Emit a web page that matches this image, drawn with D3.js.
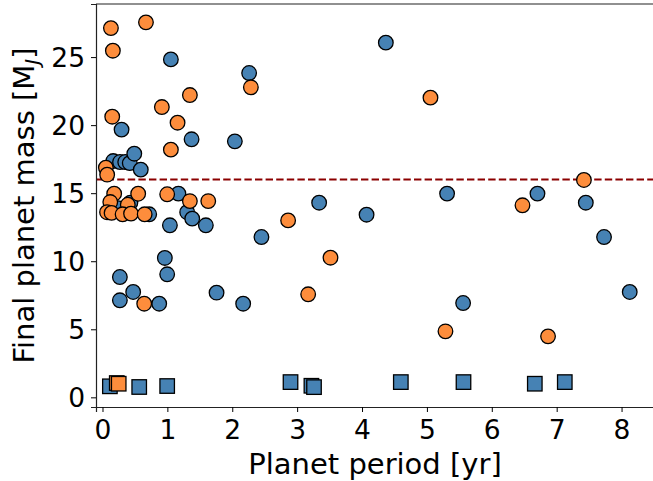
<!DOCTYPE html>
<html>
<head>
<meta charset="utf-8">
<script src="https://cdn.jsdelivr.net/npm/d3@7"></script>
<style>
	body { margin: 0; background: #fff; }
	text { font-family: "DejaVu Sans", sans-serif; }
</style>
</head>
<body>
<script>
// planets that stay as circles, [period yr, mass MJ]
var bluePlanets = [
	[4.367, 26.06], [1.054, 24.83], [2.26, 23.83], [0.294, 19.67], [1.373, 18.96], [2.04, 18.81],
	[0.165, 17.36], [0.27, 17.29], [0.35, 17.29], [0.42, 17.21], [0.49, 17.9], [0.59, 16.73],
	[0.43, 14.3], [0.24, 13.9], [0.72, 13.45],
	[1.17, 14.97], [1.305, 13.6], [1.383, 13.13], [1.593, 12.64], [1.039, 12.64], [2.45, 11.78],
	[0.961, 10.24], [0.997, 9.04], [0.268, 8.84], [0.473, 7.74], [0.268, 7.13], [0.874, 6.88],
	[1.758, 7.69], [2.168, 6.88],
	[3.339, 14.3], [4.07, 13.42], [5.311, 14.97], [6.704, 14.97], [7.449, 14.3], [7.73, 11.78],
	[8.126, 7.74], [5.558, 6.93]
];
var orangePlanets = [
	[0.13, 27.13], [0.67, 27.55], [0.16, 25.47], [0.15, 20.62], [0.915, 21.33], [1.347, 22.21],
	[1.157, 20.18], [1.054, 18.2], [2.287, 22.78], [5.055, 22.02], [7.42, 15.97],
	[0.052, 16.88], [0.072, 16.36],
	[0.18, 14.96], [0.55, 14.96], [0.12, 14.35], [0.39, 14.15], [0.07, 13.6], [0.14, 13.55],
	[0.31, 13.45], [0.44, 13.5], [0.65, 13.45],
	[0.997, 14.92], [1.347, 14.42], [1.63, 14.42],
	[2.861, 13.0], [3.514, 10.26], [3.17, 7.57], [6.473, 14.11], [5.286, 4.85], [6.867, 4.48],
	[0.643, 6.88]
];
// planets drawn as squares
var blueSquares = [
	[0.114, 0.81], [0.566, 0.76], [0.997, 0.83], [2.898, 1.12], [3.22, 0.85], [3.26, 0.75],
	[4.598, 1.12], [5.564, 1.12], [6.663, 1.0], [7.125, 1.12]
];
var orangeSquares = [[0.22, 1.05], [0.25, 1.0]];

var xTicks = [0, 1, 2, 3, 4, 5, 6, 7, 8];
var yTicks = [0, 5, 10, 15, 20, 25];
var massLimit = 16;

var width = 653,
	height = 481;

var svg = d3.select('body').append('svg')
	.attr('width', width)
	.attr('height', height);

var x = d3.scaleLinear().domain([-0.1, 8.5]).range([96, 654]);
var y = d3.scaleLinear().domain([-0.71, 28.9]).range([407, 4]);

var blue = '#4682b4',
	orange = '#fd8d3c';

// limit line
svg.append('line')
	.attr('x1', x(-0.1)).attr('x2', x(8.5))
	.attr('y1', y(massLimit)).attr('y2', y(massLimit))
	.attr('stroke', '#8b0000')
	.attr('stroke-width', 2)
	.attr('stroke-dasharray', '7.4,3.2');

function circles(data, color) {
	svg.append('g').selectAll('circle')
		.data(data)
		.enter().append('circle')
		.attr('cx', function (d) { return x(d[0]); })
		.attr('cy', function (d) { return y(d[1]); })
		.attr('r', 7.3)
		.attr('fill', color)
		.attr('stroke', '#000')
		.attr('stroke-width', 1.3);
}
function squares(data, color) {
	var s = 14.5;
	svg.append('g').selectAll('rect')
		.data(data)
		.enter().append('rect')
		.attr('x', function (d) { return x(d[0]) - s / 2; })
		.attr('y', function (d) { return y(d[1]) - s / 2; })
		.attr('width', s).attr('height', s)
		.attr('fill', color)
		.attr('stroke', '#000')
		.attr('stroke-width', 1.3);
}

circles(bluePlanets, blue);
circles(orangePlanets, orange);
squares(blueSquares, blue);
squares(orangeSquares, orange);

// axes
var xAxis = svg.append('g')
	.attr('transform', 'translate(0,407)')
	.call(d3.axisBottom(x).tickValues(xTicks).tickSize(5).tickPadding(6).tickFormat(d3.format('d')));
var yAxis = svg.append('g')
	.attr('transform', 'translate(96,0)')
	.call(d3.axisLeft(y).tickValues(yTicks).tickSize(5).tickPadding(6).tickFormat(d3.format('d')));

[xAxis, yAxis].forEach(function (a) {
	a.selectAll('text')
		.attr('fill', '#000')
		.style('font-size', '26.5px')
		.style('font-family', '"DejaVu Sans", sans-serif');
	a.selectAll('line').attr('stroke', '#000').attr('stroke-width', 1);
	a.select('.domain').attr('stroke', '#222').attr('stroke-width', 1.2);
});
xAxis.selectAll('text').attr('dy', null).attr('y', 32);
yAxis.selectAll('text').attr('dy', '0.36em');

// top spine
svg.append('line')
	.attr('x1', 96).attr('x2', 654)
	.attr('y1', 4).attr('y2', 4)
	.attr('stroke', '#222').attr('stroke-width', 1.2);

svg.append('text')
	.attr('x', (96 + 654) / 2)
	.attr('y', 474)
	.attr('text-anchor', 'middle')
	.style('font-size', '29px')
	.text('Planet period [yr]');

var yl = svg.append('text')
	.attr('transform', 'translate(34,205.5) rotate(-90)')
	.attr('text-anchor', 'middle')
	.style('font-size', '29px');
yl.append('tspan').text('Final planet mass [M');
yl.append('tspan')
	.attr('baseline-shift', '-0.25em')
	.style('font-size', '20px')
	.style('font-style', 'italic')
	.text('J');
yl.append('tspan').text(']');
</script>
</body>
</html>
